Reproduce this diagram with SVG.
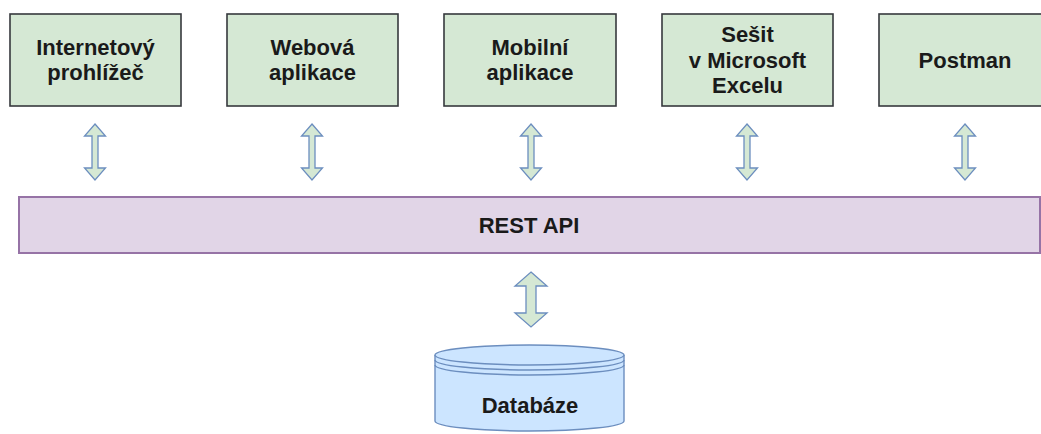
<svg xmlns="http://www.w3.org/2000/svg" xmlns:xlink="http://www.w3.org/1999/xlink" width="1041" height="434" viewBox="0 0 1041 434">
  <style>
    .client { fill: #d5e8d4; stroke: #36393d; stroke-width: 1.6; }
    .api { fill: #e1d5e7; stroke: #9673a6; stroke-width: 2; }
    .db { fill: #cce5ff; stroke: #6c8ebf; stroke-width: 1.4; }
    .link { fill: #d5e8d4; stroke: #6c8ebf; stroke-width: 1.3; stroke-linejoin: miter; }
    .label { font-family: "Liberation Sans", Arial, sans-serif; font-weight: bold; font-size: 22px; fill: #1a1a1a; text-anchor: middle; }
  </style>
  <defs>
    <!-- two-way arrow, centred on its own origin -->
    <path id="dbl-small" d="M0,-28 L10.5,-16 L3,-16 L3,16 L10.5,16 L0,28 L-10.5,16 L-3,16 L-3,-16 L-10.5,-16 Z"/>
    <path id="dbl-large" d="M0,-27.5 L16,-13.5 L5,-13.5 L5,13.5 L16,13.5 L0,27.5 L-16,13.5 L-5,13.5 L-5,-13.5 L-16,-13.5 Z"/>
  </defs>

  <rect width="1041" height="434" fill="#ffffff"/>

  <g id="connectors">
    <use xlink:href="#dbl-small" class="link" x="95" y="152"/>
    <use xlink:href="#dbl-small" class="link" x="312" y="152"/>
    <use xlink:href="#dbl-small" class="link" x="531" y="152"/>
    <use xlink:href="#dbl-small" class="link" x="747" y="152"/>
    <use xlink:href="#dbl-small" class="link" x="965" y="152"/>
    <use xlink:href="#dbl-large" class="link" x="531" y="299.5"/>
  </g>

  <g id="browser">
    <rect class="client" x="10" y="14" width="171" height="92"/>
    <text class="label" x="95.5" y="55">Internetový</text>
    <text class="label" x="95.5" y="80">prohlížeč</text>
  </g>

  <g id="web-app">
    <rect class="client" x="227" y="14" width="171" height="92"/>
    <text class="label" x="312.5" y="55">Webová</text>
    <text class="label" x="312.5" y="80">aplikace</text>
  </g>

  <g id="mobile-app">
    <rect class="client" x="444" y="14" width="172" height="92"/>
    <text class="label" x="530" y="55">Mobilní</text>
    <text class="label" x="530" y="80">aplikace</text>
  </g>

  <g id="excel">
    <rect class="client" x="662" y="14" width="171" height="92"/>
    <text class="label" x="747.5" y="42">Sešit</text>
    <text class="label" x="747.5" y="67.5">v Microsoft</text>
    <text class="label" x="747.5" y="93">Excelu</text>
  </g>

  <g id="postman">
    <rect class="client" x="879" y="14" width="172" height="92"/>
    <text class="label" x="965" y="68">Postman</text>
  </g>

  <g id="rest-api">
    <rect class="api" x="19" y="197" width="1021" height="56"/>
    <text class="label" x="529" y="233">REST API</text>
  </g>

  <g id="database">
    <path class="db" d="M435,355 A94.5,10 0 0 1 624,355 L624,421 A94.5,10 0 0 1 435,421 Z"/>
    <path class="db" fill="none" d="M435,355 A94.5,10 0 0 0 624,355"/>
    <path fill="none" stroke="#6c8ebf" stroke-width="1.4" d="M435,360 A94.5,10 0 0 0 624,360 M435,365 A94.5,10 0 0 0 624,365"/>
    <text class="label" x="530" y="413">Databáze</text>
  </g>
</svg>
